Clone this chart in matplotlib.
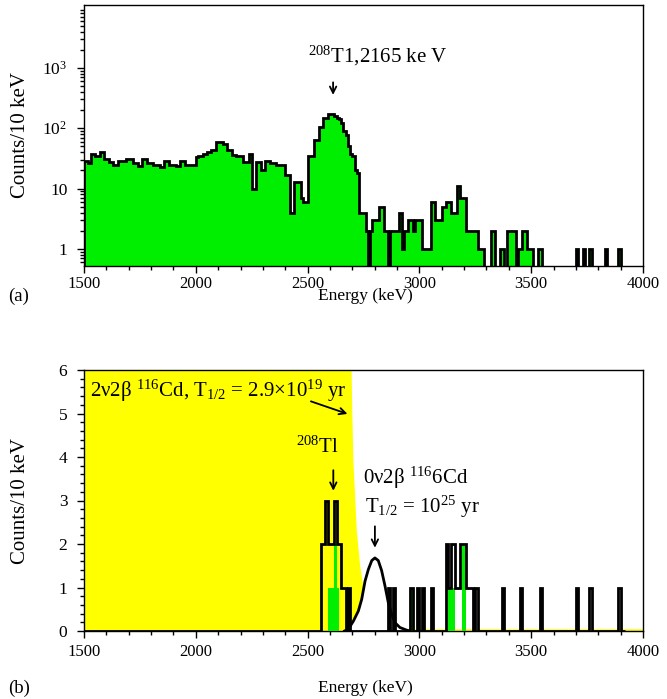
import numpy as np
import matplotlib.pyplot as plt
from matplotlib.ticker import MultipleLocator, NullFormatter, LogLocator

plt.rcParams["font.family"] = ["Liberation Serif", "DejaVu Serif"]
plt.rcParams["mathtext.fontset"] = "custom"
plt.rcParams["mathtext.rm"] = "Liberation Serif"
plt.rcParams["mathtext.it"] = "Liberation Serif:italic"
plt.rcParams["mathtext.default"] = "regular"
plt.rcParams["font.size"] = 11.5

# (a) measured spectrum, counts per 10 keV bin starting at 1500 keV
bin_start = 1500
bin_width = 10
top_counts = [
    29, 29, 26, 37, 37, 34, 34, 41, 41, 31,   # 1500
    31, 28, 28, 25, 25, 29, 29, 29, 29, 31,   # 1600
    31, 31, 26, 26, 24, 24, 31, 31, 26, 26,   # 1700
    26, 25, 25, 25, 23, 23, 29, 29, 25, 25,   # 1800
    25, 24, 24, 29, 29, 25, 25, 25, 25, 25,   # 1900
    33, 34, 34, 37, 37, 41, 41, 44, 44, 60,   # 2000
    60, 60, 54, 54, 43, 43, 36, 36, 34, 34,   # 2100
    34, 28, 28, 28, 38, 10, 10, 28, 28, 20,   # 2200
    20, 29, 29, 26, 26, 26, 25, 25, 25, 25,   # 2300
    17, 17, 4, 4, 13, 13, 13, 7, 6, 6,        # 2400
    35, 35, 35, 63, 63, 104, 104, 150, 150, 170,  # 2500
    170, 170, 160, 150, 140, 120, 90, 76, 50, 38,  # 2600
    35, 20, 18, 4, 4, 4, 2, 0, 2, 3,          # 2700
    3, 3, 5, 5, 2, 2, 0, 2, 2, 2,             # 2800
    2, 4, 1, 2, 2, 3, 3, 2, 3, 3,             # 2900
    3, 1, 1, 1, 1, 6, 6, 3, 3, 3,             # 3000
    5, 5, 6, 6, 4, 4, 4, 11, 7, 7,            # 3100
    7, 2, 2, 2, 2, 2, 1, 1, 1, 0,             # 3200
    0, 0, 2, 2, 0, 0, 1, 1, 0, 2,             # 3300
    2, 2, 2, 0, 1, 1, 2, 2, 1, 1,             # 3400
    1, 0, 0, 1, 1, 0, 0, 0, 0, 0,             # 3500
    0, 0, 0, 0, 0, 0, 0, 0, 0, 0,             # 3600
    1, 0, 0, 1, 0, 0, 1, 0, 0, 0,             # 3700
    0, 0, 0, 1, 0, 0, 0, 0, 0, 1,             # 3800
    0, 0, 0, 0, 0, 0, 0, 0, 0, 0,             # 3900
]

# (b) events in the region of interest (bin start energy -> counts)
black_e = [2560, 2570, 2580, 2590, 2600, 2610, 2620, 2630, 2640, 2650, 2660, 2680,
           2860, 2880, 2960, 2990, 3010, 3050,
           3120, 3130, 3140, 3150, 3160, 3170, 3180, 3190, 3200, 3210, 3220, 3230, 3250,
           3370, 3450, 3540, 3700, 3760, 3890]
black_n = [2, 2, 3, 2, 2, 2, 3, 2, 2, 1, 1, 1,
           1, 1, 1, 1, 1, 1,
           2, 1, 2, 2, 1, 1, 2, 2, 2, 1, 1, 1, 1,
           1, 1, 1, 1, 1, 1]
green_e = [2590, 2600, 2610, 2620, 2630, 2960, 3130, 3140, 3150, 3190, 3200]
green_n = [1, 1, 1, 2, 1, 1, 1, 1, 1, 2, 2]

# 2v2b 116Cd model (T1/2 = 2.9e19 yr)
yel_e = [1500, 1700, 1900, 2100, 2300, 2500, 2650, 2695, 2700, 2705, 2720, 2735,
         2757, 2780, 2825, 2900, 2950, 3000, 4000]
yel_v = [90, 70, 50, 32, 20, 12, 8, 6.5, 5.0, 3.9, 2.3, 1.5,
         0.76, 0.4, 0.17, 0.05, 0.04, 0.04, 0.04]

# 0v2b 116Cd peak (T1/2 = 1e25 yr)
peak_e = [2665, 2682, 2705, 2727, 2742, 2757, 2772, 2787, 2801, 2816, 2831,
          2846, 2861, 2876, 2891, 2913, 2943, 2960]
peak_v = [0.0, 0.04, 0.23, 0.46, 0.73, 1.15, 1.42, 1.62, 1.68, 1.62, 1.39,
          1.04, 0.65, 0.38, 0.19, 0.08, 0.02, 0.0]

GREEN = "#00ee00"
W, H = 667, 699
BIG = 15
fig = plt.figure(figsize=(W / 100, H / 100), dpi=100)
ax1 = fig.add_axes([84 / W, 1 - 266 / H, 559 / W, 261 / H])
ax2 = fig.add_axes([84 / W, 1 - 631 / H, 559 / W, 261 / H])

# ---- panel (a)
counts = np.array(top_counts, dtype=float)
edges = bin_start + bin_width * np.arange(len(counts) + 1)
shown = np.where(counts > 0, counts, 0.1)
ax1.stairs(shown, edges, fill=True, color=GREEN, baseline=0.1, zorder=2)
ax1.stairs(shown, edges, color="black", lw=2.0, baseline=0.1, zorder=3)
ax1.set_yscale("log")
ax1.set_ylim(0.52, 11000)
ax1.set_yticks([1, 10, 100, 1000], ["1", "10", "$10^2$", "$10^3$"])
ax1.yaxis.set_minor_locator(LogLocator(subs=np.arange(2, 10), numticks=20))
ax1.yaxis.set_minor_formatter(NullFormatter())
ax1.annotate("", xy=(2614, 320), xytext=(2614, 640),
             arrowprops=dict(arrowstyle="->", lw=1.3, color="black"))
ax1.text(2815, 1220, "$^{208}$T1,2165 ke V", ha="center", va="baseline", fontsize=BIG)

# ---- panel (b)
nb = (3920 - bin_start) // bin_width
edges_b = bin_start + bin_width * np.arange(nb + 1)
black = np.zeros(nb)
black[(np.array(black_e) - bin_start) // bin_width] = black_n
green = np.zeros(nb)
green[(np.array(green_e) - bin_start) // bin_width] = green_n

ax2.fill_between(yel_e, yel_v, color="#ffff00", lw=0, zorder=1)
ax2.fill_between(peak_e, peak_v, color="white", lw=0, zorder=2)
ax2.plot(peak_e, peak_v, color="black", lw=2.0, zorder=3)
ax2.stairs(green, edges_b, fill=True, color=GREEN, zorder=4)
ax2.stairs(black, edges_b, color="black", lw=2.0, baseline=0, zorder=5)
ax2.set_ylim(0, 6)
ax2.yaxis.set_major_locator(MultipleLocator(1))
ax2.yaxis.set_minor_locator(MultipleLocator(0.2))

ax2.text(1527, 5.38, "2ν2β $^{116}$Cd, T$_{1/2}$ = 2.9×10$^{19}$ yr",
         ha="left", va="baseline", fontsize=BIG, zorder=6)
ax2.annotate("", xy=(2690, 4.97), xytext=(2503, 5.30),
             arrowprops=dict(arrowstyle="->", lw=1.3, color="black"), zorder=6)
ax2.text(2543, 4.09, "$^{208}$Tl", ha="center", va="baseline", fontsize=BIG)
ax2.annotate("", xy=(2615, 3.16), xytext=(2615, 3.76),
             arrowprops=dict(arrowstyle="->", lw=1.3, color="black"))
ax2.text(2748, 3.39, "0ν2β $^{116}$6Cd", ha="left", va="baseline", fontsize=BIG)
ax2.text(2757, 2.72, "T$_{1/2}$ = 10$^{25}$ yr", ha="left", va="baseline", fontsize=BIG)
ax2.annotate("", xy=(2801, 1.85), xytext=(2801, 2.47),
             arrowprops=dict(arrowstyle="->", lw=1.3, color="black"))

for ax, ylab_y, pad, lab in [(ax1, 296, 2.0, "(a)"), (ax2, 688, 4.5, "(b)")]:
    ax.set_xlim(1500, 4000)
    ax.xaxis.set_major_locator(MultipleLocator(500))
    ax.xaxis.set_minor_locator(MultipleLocator(100))
    ax.tick_params(which="both", direction="out", top=False, right=False, width=1)
    ax.tick_params(which="major", length=5, labelsize=12.5)
    ax.tick_params(axis="x", which="major", pad=pad, labelsize=12)
    ax.tick_params(axis="y", which="major", pad=7)
    ax.tick_params(which="minor", length=3)
    for s in ax.spines.values():
        s.set_linewidth(1.0)
    ax.set_ylabel("Counts/10 keV", fontsize=BIG)
    ax.yaxis.set_label_coords(-63 / 559, 0.5)
    ax.yaxis.label.set_va("center")
    fig.text(365 / W, 1 - ylab_y / H, "Energy (keV)", ha="center", va="center", fontsize=12.5)
    fig.text(8 / W, 1 - ylab_y / H, lab, ha="left", va="center", fontsize=13.5)

fig.savefig("out.png", dpi=100)
